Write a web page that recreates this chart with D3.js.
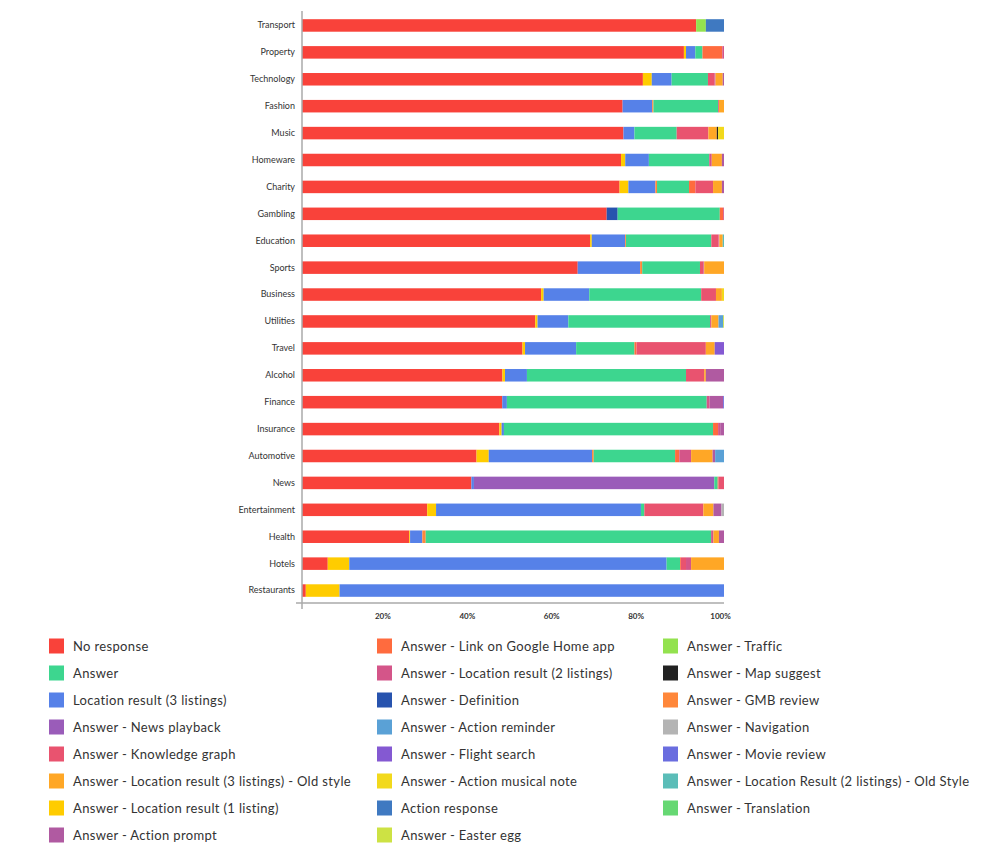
<!DOCTYPE html>
<html>
<head>
<meta charset="utf-8">
<script src="https://cdn.jsdelivr.net/npm/d3@7"></script>
<style>
	body { margin: 0; background: #fff; font-family: Lato, "Open Sans", sans-serif; }
	svg text { fill: #333; }
</style>
</head>
<body>
<svg id="chart" width="1000" height="864"></svg>
<script>
// categories, top to bottom
var categories = ['Transport', 'Property', 'Technology', 'Fashion', 'Music', 'Homeware', 'Charity', 'Gambling',
	'Education', 'Sports', 'Business', 'Utilities', 'Travel', 'Alcohol', 'Finance', 'Insurance', 'Automotive',
	'News', 'Entertainment', 'Health', 'Hotels', 'Restaurants'];

// legend order (column by column)
var legendSeries = ['No response', 'Answer', 'Location result (3 listings)', 'Answer - News playback',
	'Answer - Knowledge graph', 'Answer - Location result (3 listings) - Old style', 'Answer - Location result (1 listing)',
	'Answer - Action prompt', 'Answer - Link on Google Home app', 'Answer - Location result (2 listings)',
	'Answer - Definition', 'Answer - Action reminder', 'Answer - Flight search', 'Answer - Action musical note',
	'Action response', 'Answer - Easter egg', 'Answer - Traffic', 'Answer - Map suggest', 'Answer - GMB review',
	'Answer - Navigation', 'Answer - Movie review', 'Answer - Location Result (2 listings) - Old Style',
	'Answer - Translation'];

var legendColors = ['#f9423a', '#3dd68f', '#5681e8', '#9a5cb9', '#e9536f', '#ffa726', '#ffcc00',
	'#b05aa1', '#ff6b3e', '#d45589', '#2753ae', '#5aa1d6', '#8459d2', '#f2d91c',
	'#3f79c1', '#cde244', '#93e24f', '#222222', '#ff873a',
	'#b4b4b4', '#6a6ddf', '#5bbdb8', '#66d873'];

// order the segments are stacked in, left to right
var stackOrder = ['No response', 'Answer - Location result (1 listing)', 'Answer - Definition',
	'Location result (3 listings)', 'Answer - GMB review', 'Answer - News playback', 'Answer',
	'Answer - Link on Google Home app', 'Answer - Knowledge graph', 'Answer - Location result (2 listings)',
	'Answer - Location result (3 listings) - Old style', 'Answer - Map suggest', 'Answer - Action musical note',
	'Answer - Action prompt', 'Answer - Action reminder', 'Answer - Flight search', 'Answer - Traffic',
	'Action response', 'Answer - Location Result (2 listings) - Old Style', 'Answer - Navigation',
	'Answer - Movie review', 'Answer - Translation', 'Answer - Easter egg'];

// percentage per category, same order as categories
var noResponse      = [93.4, 90.5, 80.7, 75.9, 76.1, 75.6, 75.4, 72.2, 68.2, 65.4, 56.6, 55.3, 52.2, 47.5, 47.5, 46.8, 41.4, 40.1, 29.7, 25.4, 6.1, 0.9];
var locOneListing   = [0, 0.5, 2.1, 0, 0, 1.0, 2.1, 0, 0.4, 0, 0.6, 0.55, 0.6, 0.6, 0, 0.55, 2.9, 0, 2.1, 0.2, 5.1, 8.0];
var definition      = [0, 0, 0, 0, 0, 0, 0, 2.6, 0, 0, 0, 0, 0, 0, 0, 0, 0, 0, 0, 0, 0, 0];
var locThreeListing = [0, 2.2, 4.7, 7.0, 2.6, 5.6, 6.4, 0, 7.9, 14.8, 10.8, 7.3, 12.1, 5.2, 1.1, 0.55, 24.5, 0.6, 48.6, 2.9, 75.2, 91.1];
var gmbReview       = [0, 0, 0, 0.3, 0, 0, 0.4, 0, 0.2, 0.5, 0, 0, 0, 0, 0, 0, 0.4, 0, 0, 0.8, 0, 0];
var newsPlayback    = [0, 0, 0, 0, 0, 0, 0, 0, 0, 0, 0, 0, 0, 0, 0, 0, 0, 56.9, 0, 0, 0, 0];
var answer          = [0, 1.7, 8.6, 15.3, 10.0, 14.3, 7.6, 24.2, 20.2, 13.7, 26.5, 33.6, 13.8, 37.7, 47.4, 49.6, 19.3, 0.8, 0.8, 67.6, 3.2, 0];
var linkHomeApp     = [0, 4.7, 0, 0, 0, 0, 1.5, 0.8, 0, 0, 0, 0, 0.5, 0, 0, 1.2, 1.0, 0.2, 0, 0, 0.2, 0];
var knowledgeGraph  = [0, 0, 1.5, 0, 7.5, 0, 4.2, 0, 1.7, 0.8, 3.5, 0, 16.4, 4.3, 0, 0, 0, 1.3, 14.0, 0, 1.2, 0];
var locTwoListing   = [0, 0.4, 0.3, 0.2, 0, 0.6, 0, 0.2, 0.2, 0.2, 0, 0.3, 0, 0, 0.7, 0.5, 2.8, 0, 0, 0.55, 1.2, 0];
var oldStyle        = [0, 0, 1.7, 1.2, 2.0, 2.4, 2.1, 0, 0.8, 4.7, 1.4, 1.7, 2.1, 0.4, 0, 0, 5.1, 0, 2.4, 1.3, 7.8, 0];
var mapSuggest      = [0, 0, 0, 0, 0.3, 0, 0, 0, 0, 0, 0, 0, 0, 0, 0, 0, 0, 0, 0, 0, 0, 0];
var musicalNote     = [0, 0, 0, 0, 1.4, 0, 0, 0, 0, 0, 0.5, 0, 0, 0, 0, 0, 0, 0, 0, 0, 0, 0];
var actionPrompt    = [0, 0, 0.3, 0, 0, 0.5, 0.5, 0, 0, 0, 0, 0, 0, 4.3, 3.2, 0.9, 0.6, 0, 1.9, 1.2, 0, 0];
var actionReminder  = [0, 0, 0, 0, 0, 0, 0, 0, 0, 0, 0, 1.1, 0, 0, 0, 0, 2.1, 0, 0, 0, 0, 0];
var flightSearch    = [0, 0, 0, 0, 0, 0, 0, 0, 0, 0, 0, 0, 2.2, 0, 0, 0, 0, 0, 0, 0, 0, 0];
var traffic         = [2.3, 0, 0, 0, 0, 0, 0, 0, 0, 0, 0, 0, 0, 0, 0, 0, 0, 0, 0, 0, 0, 0];
var actionResponse  = [4.3, 0, 0, 0, 0, 0, 0, 0, 0, 0, 0, 0, 0, 0, 0, 0, 0, 0, 0, 0, 0, 0];
var locTwoOldStyle  = [0, 0, 0, 0, 0, 0, 0, 0, 0.3, 0, 0, 0, 0, 0, 0, 0, 0, 0, 0, 0, 0, 0];
var navigation      = [0, 0, 0, 0, 0, 0, 0, 0, 0, 0, 0, 0, 0, 0, 0, 0, 0, 0, 0.6, 0, 0, 0];
var movieReview     = [0, 0, 0, 0, 0, 0, 0, 0, 0, 0, 0, 0, 0, 0, 0.2, 0, 0, 0, 0, 0, 0, 0];
var translation     = [0, 0, 0, 0, 0, 0, 0, 0, 0, 0, 0, 0, 0, 0, 0, 0, 0, 0, 0, 0, 0, 0];
var easterEgg       = [0, 0, 0, 0, 0, 0, 0, 0, 0, 0, 0, 0.2, 0, 0, 0, 0, 0, 0, 0, 0, 0, 0];

var xTicks = [0.2, 0.4, 0.6, 0.8, 1];

var seriesValues = {
	'No response': noResponse,
	'Answer - Location result (1 listing)': locOneListing,
	'Answer - Definition': definition,
	'Location result (3 listings)': locThreeListing,
	'Answer - GMB review': gmbReview,
	'Answer - News playback': newsPlayback,
	'Answer': answer,
	'Answer - Link on Google Home app': linkHomeApp,
	'Answer - Knowledge graph': knowledgeGraph,
	'Answer - Location result (2 listings)': locTwoListing,
	'Answer - Location result (3 listings) - Old style': oldStyle,
	'Answer - Map suggest': mapSuggest,
	'Answer - Action musical note': musicalNote,
	'Answer - Action prompt': actionPrompt,
	'Answer - Action reminder': actionReminder,
	'Answer - Flight search': flightSearch,
	'Answer - Traffic': traffic,
	'Action response': actionResponse,
	'Answer - Location Result (2 listings) - Old Style': locTwoOldStyle,
	'Answer - Navigation': navigation,
	'Answer - Movie review': movieReview,
	'Answer - Translation': translation,
	'Answer - Easter egg': easterEgg
};

// one row per category, normalised to 100%
var rows = categories.map(function(c, i) {
	var row = {category: c}, total = 0;
	stackOrder.forEach(function(s) { total += seriesValues[s][i]; });
	stackOrder.forEach(function(s) { row[s] = seriesValues[s][i] / total; });
	return row;
});

var svg = d3.select('#chart');

var x = d3.scaleLinear().domain([0, 1]).range([302, 724]);
var y = d3.scaleBand().domain(categories).range([12, 604]).paddingInner(0.535).paddingOuter(0.2675);
var color = d3.scaleOrdinal().domain(legendSeries).range(legendColors);

var stacked = d3.stack().keys(stackOrder)(rows);

var layer = svg.selectAll('g.layer').data(stacked);

layer
	.enter()
	.append('g')
	.attr('class', 'layer')
	.attr('fill', function(d) { return color(d.key); })
	.selectAll('rect')
	.data(function(d) { return d.filter(function(p) { return p[1] - p[0] > 0; }); })
	.enter()
	.append('rect')
	.attr('x', function(d) { return x(d[0]); })
	.attr('width', function(d) { return x(d[1]) - x(d[0]); })
	.attr('y', function(d) { return y(d.data.category); })
	.attr('height', y.bandwidth());

// y axis labels + line
var yAxis = svg.append('g')
	.attr('transform', 'translate(302,0)')
	.call(d3.axisLeft(y).tickSize(0).tickPadding(7));

yAxis.select('.domain').remove();
yAxis.selectAll('text')
	.style('font-family', 'Lato, sans-serif')
	.style('font-size', '9px')
	.attr('fill', '#333');

svg.append('line')
	.attr('x1', 302).attr('x2', 302)
	.attr('y1', 11).attr('y2', 609)
	.attr('stroke', '#aaa').attr('stroke-width', 1.5);

// x axis
var xAxis = svg.append('g')
	.attr('transform', 'translate(0,603)')
	.call(d3.axisBottom(x).tickValues(xTicks).tickFormat(d3.format('.0%')).tickSize(0).tickPadding(10));

xAxis.select('.domain').remove();
xAxis.selectAll('text')
	.attr('dx', -4)
	.style('font-family', 'Lato, sans-serif')
	.style('font-size', '8px')
	.style('font-weight', 'bold')
	.attr('fill', '#333');

svg.append('line')
	.attr('x1', 296).attr('x2', 724)
	.attr('y1', 603).attr('y2', 603)
	.attr('stroke', '#aaa').attr('stroke-width', 1.5);

// legend, 8 rows per column
var legendCols = [49, 377, 663];

var item = svg.selectAll('g.legendItem').data(legendSeries);

var itemEnter = item
	.enter()
	.append('g')
	.attr('class', 'legendItem')
	.attr('transform', function(d, i) {
		return 'translate(' + legendCols[Math.floor(i / 8)] + ',' + (646 + (i % 8) * 27) + ')';
	});

itemEnter.append('rect')
	.attr('x', 0).attr('y', -7.5)
	.attr('width', 15).attr('height', 15)
	.attr('fill', function(d) { return color(d); });

itemEnter.append('text')
	.attr('x', 24)
	.attr('dy', '0.35em')
	.style('font-size', '13px')
	.style('letter-spacing', '0.35px')
	.text(function(d) { return d; });
</script>
</body>
</html>
